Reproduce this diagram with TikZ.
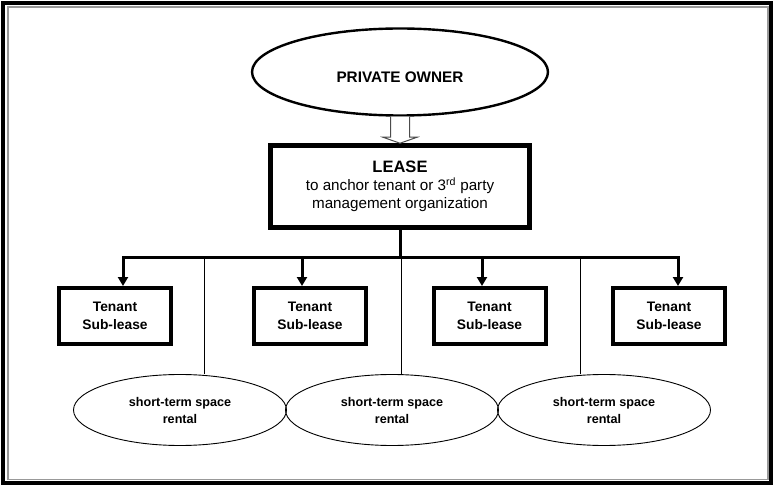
\documentclass[tikz,border=0pt]{standalone}
\usepackage{fontspec}
\setmainfont{Liberation Sans}
\usetikzlibrary{positioning,calc,arrows.meta,shapes.geometric}

\begin{document}
\begin{tikzpicture}[x=1pt,y=1pt,
		owner/.style={ellipse,draw,line width=2.4pt,inner sep=0pt,minimum width=296pt,minimum height=87pt,font=\bfseries\fontsize{15.3}{18}\selectfont,text height=21pt},
		leasebox/.style={rectangle,draw,line width=4.5pt,minimum width=259pt,minimum height=82pt,inner sep=0pt,align=center,font=\fontsize{15.2}{18}\selectfont},
		tenantbox/.style={rectangle,draw,line width=4pt,minimum width=112pt,minimum height=56pt,inner sep=0pt,align=center,font=\bfseries\fontsize{13.8}{18}\selectfont},
		rental/.style={ellipse,draw,line width=0.9pt,inner sep=0pt,minimum width=213pt,minimum height=71pt,align=center,font=\bfseries\fontsize{12.6}{17}\selectfont},
		feed/.style={line width=3pt,-{Triangle[width=10pt,length=9pt]}},
		spur/.style={line width=0.8pt}]
		\useasboundingbox (0,0) rectangle (773,485);
		% frame
		\draw[line width=3.5pt] (3,482) rectangle (771,2);
		\draw[line width=1.2pt,black!40] (8,478) rectangle (768,5.5);
		% owner and lease
		\node[owner] (owner) at (400,413) {PRIVATE OWNER};
		\node[leasebox] (lease) at (400,298.5) {{\bfseries\fontsize{16.5}{18}\selectfont LEASE}\\to anchor tenant or 3\textsuperscript{rd} party\\management organization};
		\draw[line width=1pt,black!70,fill=white] ($(owner.south)+(-9.5,0)$) -- ($(lease.north)+(-9.5,6)$) -- ($(lease.north)+(-17,6)$)
			-- (lease.north) -- ($(lease.north)+(17,6)$) -- ($(lease.north)+(9.5,6)$) -- ($(owner.south)+(9.5,0)$);
		% sub-leases
		\node[tenantbox] (t1) at (115,169) {Tenant\\Sub-lease};
		\node[tenantbox] (t2) at (310,169) {Tenant\\Sub-lease};
		\node[tenantbox] (t3) at (489.5,169) {Tenant\\Sub-lease};
		\node[tenantbox] (t4) at (669,169) {Tenant\\Sub-lease};
		% rentals
		\node[rental] (r1) at (180,75) {short-term space\\rental};
		\node[rental] (r2) at (392,75) {short-term space\\rental};
		\node[rental] (r3) at (604,75) {short-term space\\rental};
		% connectors
		\coordinate (bus) at (400,227);
		\coordinate (d1) at (123,227);
		\coordinate (d2) at (302,227);
		\coordinate (d3) at (482,227);
		\coordinate (d4) at (678,227);
		\coordinate (s1) at (204,227);
		\coordinate (s2) at (401,227);
		\coordinate (s3) at (580,227);
		\draw[spur] (s1) -- (s1 |- r1.north);
		\draw[spur] (s2) -- (s2 |- r2.north);
		\draw[spur] (s3) -- (s3 |- r3.north);
		\draw[line width=3pt] (lease.south) -- (bus);
		\draw[feed,{Triangle[width=10pt,length=9pt]}-{Triangle[width=10pt,length=9pt]}] (d1 |- t1.north) |- (bus) -| (d4 |- t4.north);
		\draw[feed] (d2) -- (d2 |- t2.north);
		\draw[feed] (d3) -- (d3 |- t3.north);
\end{tikzpicture}
\end{document}
